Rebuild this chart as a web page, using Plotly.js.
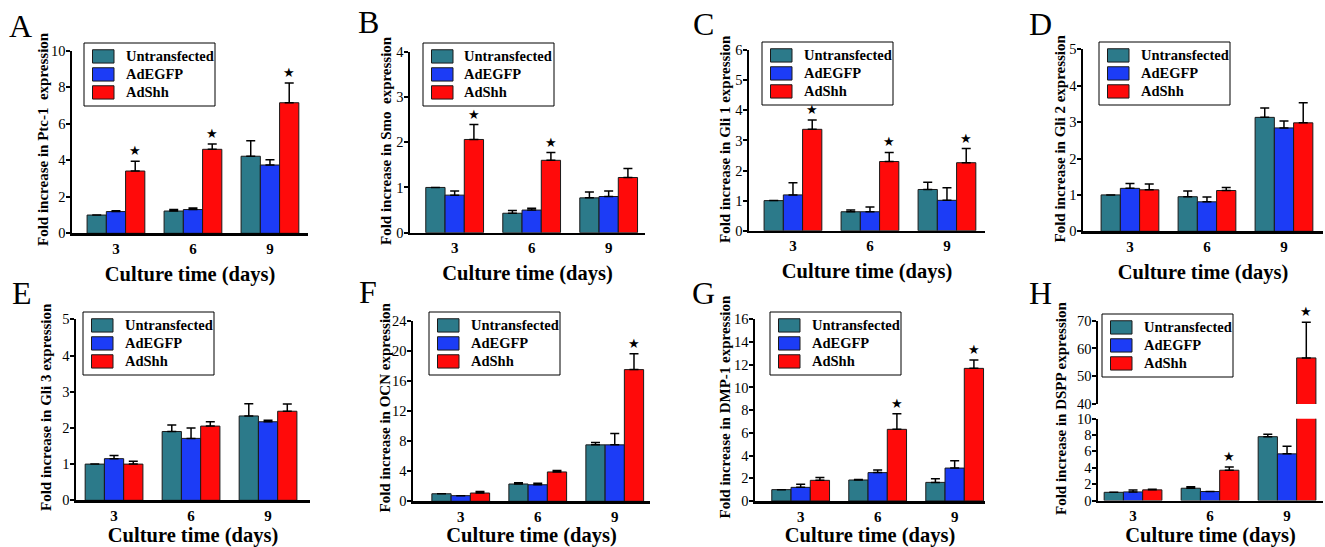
<!DOCTYPE html>
<html>
<head>
<meta charset="utf-8">
<script src="https://cdn.plot.ly/plotly-3.0.1.min.js"></script>
<style>html,body{margin:0;padding:0;background:#fff;}#chart{width:1325px;height:547px;}</style>
</head>
<body>
<div id="chart"></div>
<script>
// ---------- data ----------
const days = ['3', '6', '9'];
const groups = ['Untransfected', 'AdEGFP', 'AdShh'];

// rows: Untransfected, AdEGFP, AdShh ; columns: day 3, 6, 9
const ptc1    = [[1.00, 1.22, 4.22], [1.19, 1.30, 3.74], [3.41, 4.60, 7.15]];
const ptc1Err = [[0.00, 0.09, 0.85], [0.05, 0.09, 0.29], [0.53, 0.29, 1.08]];
const ptc1Sig = [1, 1, 1];

const smo    = [[1.00, 0.43, 0.77], [0.83, 0.50, 0.80], [2.06, 1.60, 1.22]];
const smoErr = [[0.00, 0.06, 0.13], [0.09, 0.04, 0.12], [0.33, 0.17, 0.20]];
const smoSig = [1, 1, 0];

const gli1    = [[1.00, 0.63, 1.37], [1.19, 0.63, 1.01], [3.37, 2.30, 2.26]];
const gli1Err = [[0.00, 0.06, 0.24], [0.40, 0.16, 0.42], [0.31, 0.30, 0.47]];
const gli1Sig = [1, 1, 1];

const gli2    = [[1.00, 0.95, 3.13], [1.18, 0.81, 2.84], [1.14, 1.12, 2.98]];
const gli2Err = [[0.00, 0.16, 0.26], [0.13, 0.13, 0.19], [0.16, 0.08, 0.55]];
const gli2Sig = [0, 0, 0];

const gli3    = [[1.00, 1.90, 2.33], [1.15, 1.71, 2.17], [1.00, 2.05, 2.46]];
const gli3Err = [[0.00, 0.18, 0.34], [0.09, 0.29, 0.04], [0.08, 0.12, 0.20]];
const gli3Sig = [0, 0, 0];

const ocn    = [[1.00, 2.30, 7.50], [0.75, 2.20, 7.50], [1.10, 3.90, 17.50]];
const ocnErr = [[0.00, 0.18, 0.30], [0.00, 0.20, 1.50], [0.20, 0.20, 2.10]];
const ocnSig = [0, 0, 1];

const dmp1    = [[1.00, 1.85, 1.64], [1.20, 2.50, 2.90], [1.82, 6.31, 11.68]];
const dmp1Err = [[0.00, 0.05, 0.32], [0.28, 0.22, 0.65], [0.26, 1.38, 0.74]];
const dmp1Sig = [0, 1, 1];

const dspp    = [[1.00, 1.50, 7.80], [1.05, 1.10, 5.70], [1.30, 3.70, 56.6]];
const dsppErr = [[0.00, 0.17, 0.30], [0.22, 0.00, 0.92], [0.08, 0.40, 12.8]];
const dsppSig = [0, 1, 1];

// ---------- styling ----------
const colors = ['#2c7a8a', '#1c3cf6', '#ff0a0a'];
const SERIF = 'Liberation Serif';
const W = 1325, H = 547, UNIT = 77, BARGAP = 0.25;
const px = v => v / W;
const py = v => 1 - v / H;

const panels = [
  {letter: 'A', vals: ptc1, errs: ptc1Err, sig: ptc1Sig, ytitle: 'Fold increase in Ptc-1\u00a0 expression', yt: [43, 139],
   xd: [72, 308], yd: [50.7, 233.3], x0: -0.571, yr: [0, 10], dt: 2, leg: [84, 43], let: [21, 26], xso: 11},
  {letter: 'B', vals: smo, errs: smoErr, sig: smoSig, ytitle: 'Fold increase in Smo\u00a0 expression', yt: [386, 141],
   xd: [410, 645], yd: [51.7, 232.7], x0: -0.58, yr: [0, 4], dt: 1, leg: [423, 43], let: [368, 22], xso: 11},
  {letter: 'C', vals: gli1, errs: gli1Err, sig: gli1Sig, ytitle: 'Fold increase in Gli 1 expression', yt: [725, 139],
   xd: [749, 985], yd: [50.2, 230.7], x0: -0.571, yr: [0, 6], dt: 1, leg: [762, 42], let: [703, 24], xso: 11},
  {letter: 'D', vals: gli2, errs: gli2Err, sig: gli2Sig, ytitle: 'Fold increase in Gli 2 expression', yt: [1059.5, 139],
   xd: [1083, 1323], yd: [49.3, 231.3], x0: -0.61, yr: [0, 5], dt: 1, leg: [1099, 42], let: [1040, 24], xso: 11},
  {letter: 'E', vals: gli3, errs: gli3Err, sig: gli3Sig, ytitle: 'Fold increase in Gli 3 expression', yt: [46, 407],
   xd: [76, 310], yd: [319.3, 500.3], x0: -0.494, yr: [0, 5], dt: 1, leg: [83, 312], let: [22, 293], xso: 15},
  {letter: 'F', vals: ocn, errs: ocnErr, sig: ocnSig, ytitle: 'Fold increase in OCN expression', yt: [384.5, 408],
   xd: [413, 650], yd: [320.7, 501.3], x0: -0.62, yr: [0, 24], dt: 4, leg: [429, 312], let: [368, 292], xso: 15},
  {letter: 'G', vals: dmp1, errs: dmp1Err, sig: dmp1Sig, ytitle: 'Fold increase in DMP-1 expression', yt: [724.5, 407],
   xd: [755, 985], yd: [319.3, 501], x0: -0.593, yr: [0, 16], dt: 2, leg: [770, 312], let: [703, 293], xso: 15},
  {letter: 'H', vals: dspp, errs: dsppErr, sig: dsppSig, ytitle: 'Fold increase in DSPP expression', yt: [1061, 409],
   xd: [1098, 1323], yd: [418.7, 500.5], x0: -0.455, yr: [0, 10], dt: 2, leg: [1102, 314], let: [1040, 293], xso: 15,
   upper: {yd: [320.7, 404], yr: [40, 70], dt: 10}}
];

// legend geometry (pixels, relative to legend box corner)
const LEG_W = 131, LEG_H = 63, SW_X0 = 8.5, SW_X1 = 30, SW_H = 13.3, ROW0 = 13.4, ROW_STEP = 18, TXT_X = 39.5;

const traces = [];
const annotations = [];
const shapes = [];
const layout = {
  width: W, height: H,
  margin: {l: 0, r: 0, t: 0, b: 0},
  paper_bgcolor: '#ffffff', plot_bgcolor: 'rgba(0,0,0,0)',
  barmode: 'group', bargap: BARGAP, bargroupgap: 0,
  showlegend: false,
  font: {family: SERIF, color: '#000'},
  annotations: annotations,
  shapes: shapes
};

function yAxisStyle(dom, range, dt, anchor) {
  return {
    domain: [py(dom[1]), py(dom[0])], range: range, dtick: dt, tick0: 0, anchor: anchor,
    showline: true, linecolor: '#000', linewidth: 2.5, mirror: false,
    ticks: 'outside', ticklen: 4, tickwidth: 2, tickcolor: '#000', ticklabelstandoff: -3,
    showgrid: false, zeroline: false, fixedrange: true,
    tickfont: {family: SERIF, size: 14.5, color: '#000'}
  };
}

function barTrace(p, s, xa, ya, xIdx) {
  return {
    type: 'bar', name: groups[s], x: xIdx, y: p.vals[s], xaxis: xa, yaxis: ya,
    showlegend: false,
    marker: {color: colors[s], line: {color: '#1a1a1a', width: 1}},
    error_y: {type: 'data', array: p.errs[s], arrayminus: p.errs[s].map(() => 0), symmetric: false,
              visible: true, color: '#000', thickness: 1.5, width: 4.5},
    hoverinfo: 'skip'
  };
}

panels.forEach((p, i) => {
  const n = i + 1;
  const xa = 'x' + n, ya = 'y' + n;
  const xIdx = days.map((d, k) => k);

  groups.forEach((g, s) => traces.push(barTrace(p, s, xa, ya, xIdx)));

  const xr1 = p.x0 + (p.xd[1] - p.xd[0]) / UNIT;
  layout['xaxis' + n] = {
    domain: [px(p.xd[0]), px(p.xd[1])], range: [p.x0, xr1], anchor: ya,
    showline: true, linecolor: '#000', linewidth: 2.5, ticks: '',
    tickvals: xIdx, ticktext: days,
    tickfont: {family: SERIF, size: 15, color: '#000', weight: 'bold'},
    showgrid: false, zeroline: false, fixedrange: true,
    title: {text: 'Culture time (days)', font: {family: SERIF, size: 20.5, color: '#000', weight: 'bold'}, standoff: p.xso}
  };
  layout['yaxis' + n] = yAxisStyle(p.yd, p.yr, p.dt, xa);

  // y-axis title (placed beside the axis, spans the whole panel height)
  annotations.push({
    xref: 'paper', yref: 'paper', x: px(p.yt[0]), y: py(p.yt[1]),
    xanchor: 'center', yanchor: 'middle', textangle: -90, showarrow: false, text: p.ytitle,
    font: {family: SERIF, size: 15, color: '#000', weight: 'bold'}
  });

  // legend box drawn in paper space
  const lx = p.leg[0], ly = p.leg[1];
  shapes.push({type: 'rect', xref: 'paper', yref: 'paper', layer: 'above',
    x0: px(lx), x1: px(lx + LEG_W), y0: py(ly + LEG_H), y1: py(ly),
    line: {color: '#000', width: 1}, fillcolor: '#ffffff'});
  groups.forEach((g, s) => {
    const cy = ly + ROW0 + ROW_STEP * s;
    shapes.push({type: 'rect', xref: 'paper', yref: 'paper', layer: 'above',
      x0: px(lx + SW_X0), x1: px(lx + SW_X1), y0: py(cy + SW_H / 2), y1: py(cy - SW_H / 2),
      line: {color: '#1a1a1a', width: 1}, fillcolor: colors[s]});
    annotations.push({xref: 'paper', yref: 'paper', x: px(lx + TXT_X), y: py(cy),
      xanchor: 'left', yanchor: 'middle', showarrow: false, text: g,
      font: {family: SERIF, size: 14.5, color: '#000', weight: 'bold'}});
  });

  // panel letter
  annotations.push({
    xref: 'paper', yref: 'paper', x: px(p.let[0]), y: py(p.let[1]),
    xanchor: 'center', yanchor: 'middle', showarrow: false, text: p.letter,
    font: {family: SERIF, size: 32, color: '#000'}
  });

  // broken upper axis (panel H)
  let upperY = null;
  if (p.upper) {
    upperY = 'y9';
    layout.yaxis9 = yAxisStyle(p.upper.yd, p.upper.yr, p.upper.dt, xa);
    groups.forEach((g, s) => traces.push(barTrace(p, s, xa, 'y9', xIdx)));
  }

  // significance stars above AdShh bars
  const shhOffset = (1 - BARGAP) / 3;
  p.sig.forEach((flag, k) => {
    if (!flag) return;
    const top = p.vals[2][k] + p.errs[2][k];
    const onUpper = upperY && top > p.yr[1];
    annotations.push({
      xref: xa, yref: onUpper ? upperY : ya, x: k + shhOffset, y: top,
      xanchor: 'center', yanchor: 'bottom', yshift: 1, showarrow: false, text: '\u2605',
      font: {family: 'DejaVu Sans', size: 13, color: '#000'}
    });
  });
});

Plotly.newPlot('chart', traces, layout, {displayModeBar: false, staticPlot: true});
</script>
</body>
</html>
